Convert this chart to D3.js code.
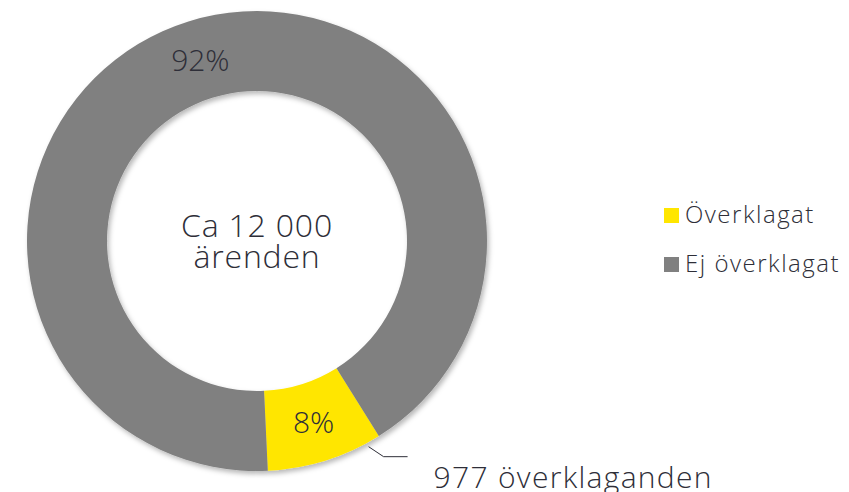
<!DOCTYPE html>
<html>
<head>
<meta charset="utf-8">
<script src="https://cdn.jsdelivr.net/npm/d3@7"></script>
<style>
  html, body { margin: 0; padding: 0; background: #fff; }
  text { font-family: "Open Sans", "Noto Sans", sans-serif; font-weight: 350; fill: #2e2e38; }
</style>
</head>
<body>
<div id="chart"></div>
<script>
// data
const categories = ["Överklagat", "Ej överklagat"];
const values = [977, 11023];
const pctLabels = ["8%", "92%"];
const centerLines = ["Ca 12 000", "ärenden"];
const calloutLabel = "977 överklaganden";

const width = 849, height = 492;
const cx = 257, cy = 241;
const outerR = 230, innerR = 150;

const color = d3.scaleOrdinal()
  .domain(categories)
  .range(["#ffe600", "#808080"]);

const svg = d3.select("#chart").append("svg")
  .attr("width", width)
  .attr("height", height);

// soft shadow like the original
const defs = svg.append("defs");
defs.append("filter")
  .attr("id", "shadow")
  .attr("x", "-10%").attr("y", "-10%")
  .attr("width", "120%").attr("height", "120%")
  .append("feDropShadow")
  .attr("dx", 2).attr("dy", 3)
  .attr("stdDeviation", 2.5)
  .attr("flood-color", "#000")
  .attr("flood-opacity", 0.28);

const pie = d3.pie()
  .sort(null)
  .startAngle(148 * Math.PI / 180)
  .endAngle(148 * Math.PI / 180 + 2 * Math.PI);

const arcs = pie(values);

const arc = d3.arc()
  .innerRadius(innerR)
  .outerRadius(outerR);

const g = svg.append("g")
  .attr("transform", "translate(" + cx + "," + cy + ")");

g.append("g")
  .attr("filter", "url(#shadow)")
  .selectAll("path")
  .data(arcs)
  .join("path")
  .attr("d", arc)
  .attr("fill", (d, i) => color(categories[i]));

// percent labels
g.selectAll("text.pct")
  .data(arcs)
  .join("text")
  .attr("class", "pct")
  .attr("x", d => arc.centroid(d)[0])
  .attr("y", d => arc.centroid(d)[1] + 11)
  .attr("text-anchor", "middle")
  .attr("font-size", 30)
  .text((d, i) => pctLabels[i]);

// center text
g.selectAll("text.center")
  .data(centerLines)
  .join("text")
  .attr("class", "center")
  .attr("x", 0)
  .attr("y", (d, i) => -4 + i * 31)
  .attr("text-anchor", "middle")
  .attr("font-size", 32)
  .attr("letter-spacing", 0.8)
  .text(d => d);

// callout for the yellow slice
const s = arcs[0];
const a = s.startAngle + 0.12 * (s.endAngle - s.startAngle);
const p0 = [234 * Math.sin(a), -234 * Math.cos(a)];
const p1 = [p0[0] + 15, p0[1] + 10];
const p2 = [p1[0] + 24, p1[1]];
g.append("path")
  .attr("d", d3.line()([p0, p1, p2]))
  .attr("fill", "none")
  .attr("stroke", "#2e2e38")
  .attr("stroke-width", 1);

g.append("text")
  .attr("x", p2[0] + 26)
  .attr("y", p2[1] + 31)
  .attr("font-size", 30)
  .attr("letter-spacing", 1.3)
  .text(calloutLabel);

// legend
const legend = svg.append("g")
  .attr("transform", "translate(664,208)");

const items = legend.selectAll("g")
  .data(categories)
  .join("g")
  .attr("transform", (d, i) => "translate(0," + i * 49 + ")");

items.append("rect")
  .attr("width", 15)
  .attr("height", 15)
  .attr("fill", d => color(d));

items.append("text")
  .attr("x", 21)
  .attr("y", 15)
  .attr("font-size", 24)
  .attr("letter-spacing", 1.5)
  .text(d => d);
</script>
</body>
</html>
